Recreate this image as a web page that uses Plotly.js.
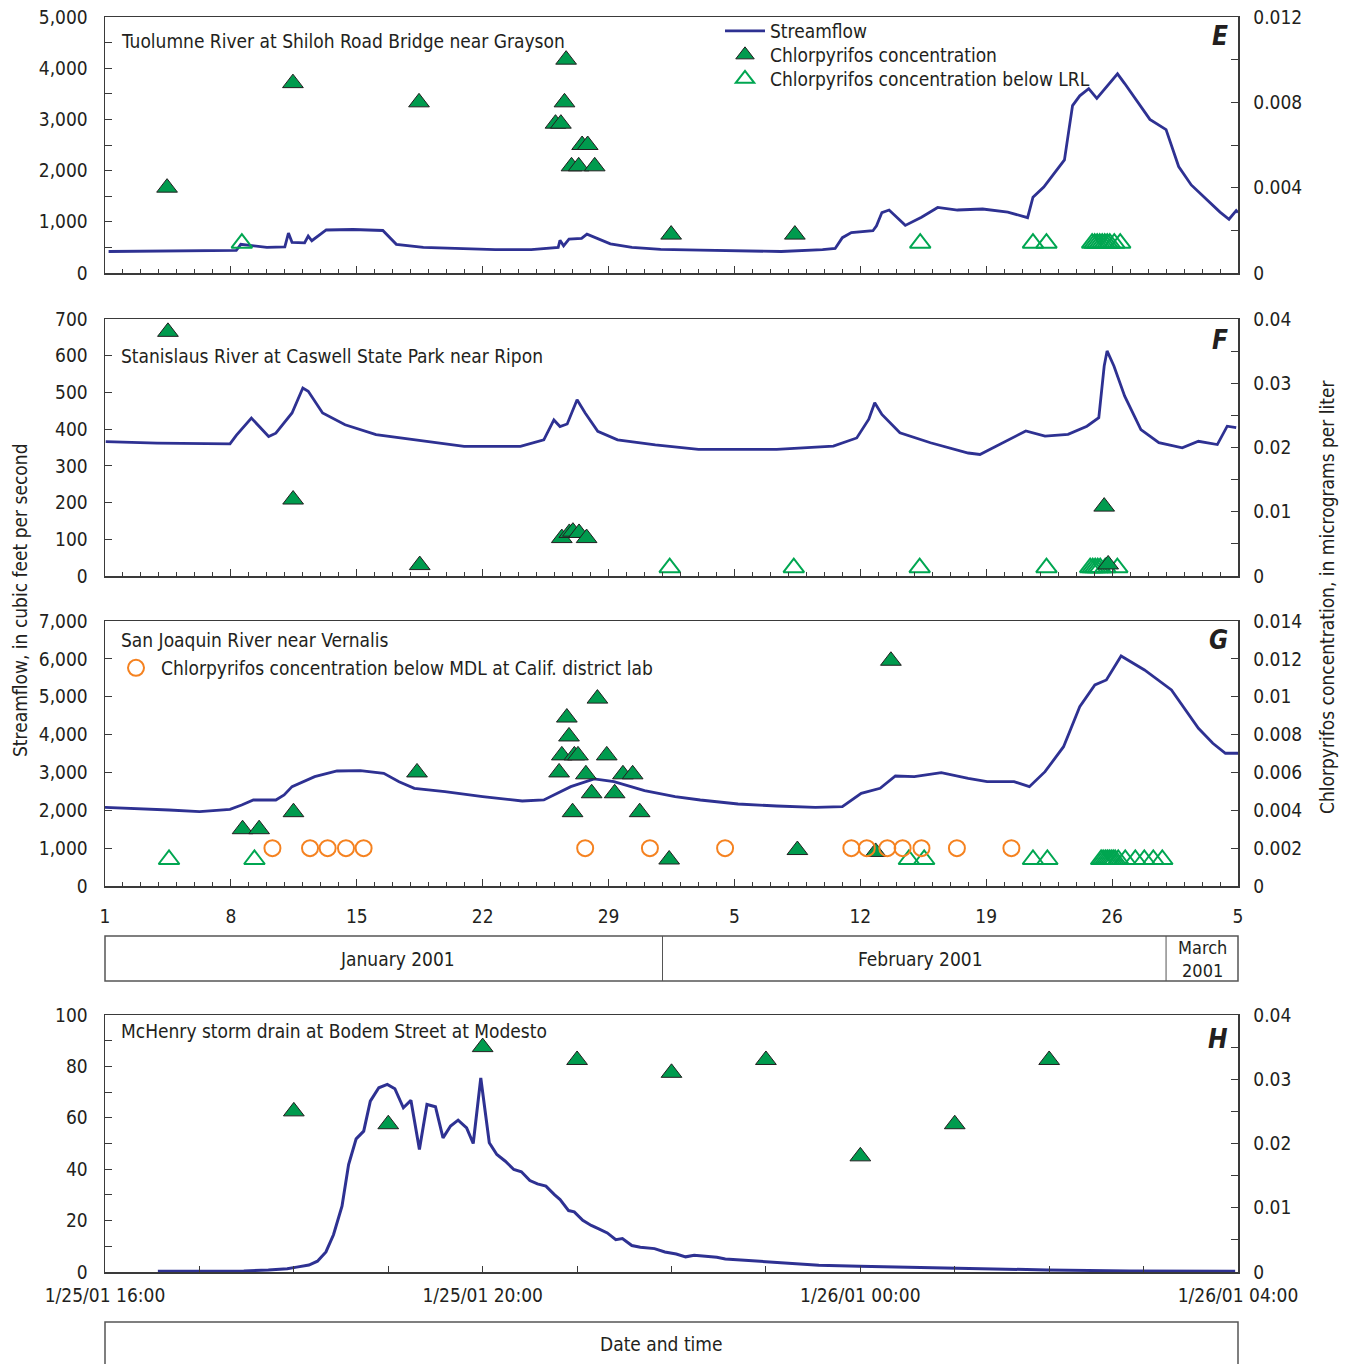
<!DOCTYPE html>
<html>
<head>
<meta charset="utf-8">
<script src="https://cdn.plot.ly/plotly-3.0.1.min.js"></script>
<style>
  html, body { margin: 0; padding: 0; background: #ffffff; }
  #chart { width: 1354px; height: 1364px; }
</style>
</head>
<body>
<div id="chart"></div>
<script>
// ---------------- Data ----------------
// Days are counted from 2001-01-01 00:00; hours from 2001-01-25 16:00.

// E: Tuolumne River at Shiloh Road Bridge near Grayson
const eFlowDay = [0.2, 3.8, 7.3, 7.55, 8.0, 9.0, 10.0, 10.2, 10.4, 11.1, 11.3, 11.5, 12.3, 13.8, 15.45, 16.2, 17.7, 19.7, 21.7, 23.7,
  25.2, 25.3, 25.5, 25.8, 26.5, 26.8, 27.3, 28.1, 29.3, 30.9, 33.1, 35.4, 37.6, 39.9, 40.6, 41.0, 41.5, 42.7, 42.9, 43.2,
  43.6, 44.5, 45.4, 46.3, 47.4, 48.8, 50.2, 51.3, 51.6, 52.2, 52.9, 53.35, 53.6, 53.8, 54.2, 54.7, 55.15, 55.6, 56.3, 56.7,
  58.1, 59.0, 59.7, 60.4, 61.3, 62.0, 62.5, 62.9, 63.0];
const eFlowCfs = [420, 425, 440, 560, 540, 500, 510, 780, 600, 590, 720, 630, 840, 850, 830, 560, 500, 480, 455, 455,
  500, 640, 530, 660, 675, 760, 690, 570, 500, 460, 445, 430, 420, 455, 480, 690, 790, 825, 920, 1180,
  1230, 930, 1090, 1280, 1230, 1250, 1190, 1080, 1480, 1680, 2010, 2210, 2800, 3270, 3460, 3600, 3410, 3600, 3890, 3700,
  3000, 2800, 2080, 1720, 1420, 1190, 1050, 1220, 1180];
const eDetDay = [3.45, 10.45, 17.46, 25.64, 25.55, 25.05, 25.35, 26.53, 26.84, 25.94, 26.34, 27.23, 31.48, 38.36];
const eDetConc = [0.0040, 0.0089, 0.0080, 0.0100, 0.0080, 0.0070, 0.0070, 0.0060, 0.0060, 0.0050, 0.0050, 0.0050, 0.0018, 0.0018];
const eLrlDay = [7.61, 45.33, 51.6, 52.35, 54.89, 55.03, 55.17, 55.31, 55.45, 55.59, 55.73, 55.87, 56.12, 56.45];
const eLrlConc = [0.0014, 0.0014, 0.0014, 0.0014, 0.0014, 0.0014, 0.0014, 0.0014, 0.0014, 0.0014, 0.0014, 0.0014, 0.0014, 0.0014];

// F: Stanislaus River at Caswell State Park near Ripon
const fFlowDay = [0.04, 2.9, 6.95, 7.3, 8.14, 9.1, 9.5, 10.4, 11.0, 11.3, 12.1, 13.35, 15.07, 17.84, 19.97, 23.1, 24.4, 24.96, 25.3, 25.7,
  26.25, 26.7, 27.4, 28.5, 30.6, 33.0, 37.35, 40.5, 41.8, 42.47, 42.8, 43.2, 44.2, 45.9, 48.0, 48.65, 50.1, 51.2, 52.27, 53.55,
  54.6, 55.26, 55.56, 55.72, 56.1, 56.7, 57.6, 58.6, 59.9, 60.8, 61.85, 62.4, 62.9];
const fFlowCfs = [366, 362, 360, 383, 430, 380, 389, 444, 512, 503, 444, 412, 385, 366, 353, 353, 371, 425, 407, 414,
  480, 444, 394, 371, 357, 345, 345, 354, 376, 427, 472, 440, 390, 363, 335, 331, 367, 395, 381, 386,
  408, 431, 572, 613, 572, 490, 399, 363, 349, 367, 358, 408, 404];
const fDetDay = [3.5, 10.46, 17.5, 25.4, 25.82, 26.02, 26.36, 26.78, 55.56, 55.78];
const fDetConc = [0.038, 0.0119, 0.0017, 0.0059, 0.0067, 0.0069, 0.0067, 0.0059, 0.0108, 0.0018];
const fLrlDay = [31.4, 38.3, 45.3, 52.35, 54.78, 54.92, 55.06, 55.2, 55.34, 55.62, 56.29];
const fLrlConc = [0.0013, 0.0013, 0.0013, 0.0013, 0.0013, 0.0013, 0.0013, 0.0013, 0.0013, 0.0013, 0.0013];

// G: San Joaquin River near Vernalis
const gFlowDay = [0, 1.85, 3.56, 5.26, 6.95, 7.6, 8.25, 9.5, 9.96, 10.4, 11.66, 12.9, 14.2, 15.5, 16.35, 17.2, 18.9, 21.0, 23.2, 24.4,
  25.9, 27.2, 28.3, 30.0, 31.7, 33.1, 35.2, 37.35, 39.5, 41.0, 42.05, 43.1, 43.95, 45.0, 46.5, 48.0, 49.05, 50.55, 51.4, 52.27,
  53.3, 54.2, 55.04, 55.68, 56.5, 57.8, 59.3, 60.8, 61.6, 62.3, 63.0];
const gFlowCfs = [2079, 2052, 2008, 1964, 2026, 2140, 2272, 2272, 2404, 2624, 2888, 3038, 3047, 2977, 2756, 2580, 2492, 2360, 2245, 2272,
  2624, 2827, 2756, 2518, 2360, 2272, 2166, 2113, 2079, 2096, 2448, 2580, 2906, 2888, 2994, 2844, 2756, 2756, 2624, 3020,
  3680, 4737, 5310, 5443, 6077, 5707, 5178, 4166, 3770, 3506, 3506];
const gDetDay = [7.65, 8.57, 10.48, 17.35, 25.68, 25.8, 25.4, 26.1, 26.3, 25.25, 26.0, 26.74, 27.06, 27.38, 27.9, 28.34, 28.8, 29.34, 29.73, 31.37,
  38.5, 42.85, 43.7];
const gDetConc = [0.0030, 0.0030, 0.0039, 0.0060, 0.0089, 0.0079, 0.0069, 0.0069, 0.0069, 0.0060, 0.0039, 0.0059, 0.0049, 0.0099, 0.0069, 0.0049, 0.0059, 0.0059, 0.0039, 0.0014,
  0.0019, 0.0018, 0.0119];
const gLrlDay = [3.56, 8.31, 44.7, 45.55, 51.6, 52.4, 55.39, 55.5, 55.62, 55.73, 55.84, 55.95, 56.06, 56.17, 56.34, 56.73, 57.29, 57.79, 58.29, 58.79];
const gLrlConc = [0.0014, 0.0014, 0.0014, 0.0014, 0.0014, 0.0014, 0.0014, 0.0014, 0.0014, 0.0014, 0.0014, 0.0014, 0.0014, 0.0014, 0.0014, 0.0014, 0.0014, 0.0014, 0.0014, 0.0014];
const gMdlDay = [9.31, 11.4, 12.38, 13.4, 14.38, 26.7, 30.3, 34.48, 41.5, 42.36, 43.5, 44.35, 45.4, 47.37, 50.4];
const gMdlConc = [0.002, 0.002, 0.002, 0.002, 0.002, 0.002, 0.002, 0.002, 0.002, 0.002, 0.002, 0.002, 0.002, 0.002, 0.002];

// H: McHenry storm drain at Bodem Street at Modesto
const hFlowHour = [0.56, 1.05, 1.47, 1.73, 1.93, 2.03, 2.16, 2.25, 2.34, 2.42, 2.51, 2.58, 2.66, 2.74, 2.81, 2.9, 2.99, 3.07, 3.16, 3.24,
  3.33, 3.41, 3.5, 3.58, 3.66, 3.74, 3.83, 3.9, 3.98, 4.07, 4.15, 4.24, 4.33, 4.41, 4.5, 4.58, 4.67, 4.76, 4.82, 4.91,
  4.97, 5.06, 5.15, 5.23, 5.32, 5.41, 5.48, 5.58, 5.67, 5.82, 5.93, 6.05, 6.15, 6.24, 6.48, 6.57, 6.95, 7.26, 7.56, 7.99,
  8.47, 9.12, 9.98, 10.85, 11.97];
const hFlowCfs = [0.3, 0.3, 0.4, 0.8, 1.3, 1.9, 2.7, 4.2, 7.8, 14.5, 25.6, 41.8, 51.8, 54.8, 66.5, 71.7, 73.0, 71.3, 63.9, 66.8,
  47.7, 65.2, 64.3, 52.2, 56.8, 59.1, 56.1, 50.0, 75.5, 50.3, 45.7, 43.1, 39.9, 39.0, 35.6, 34.3, 33.4, 30.1, 28.2, 23.9,
  23.4, 20.1, 18.1, 16.8, 15.2, 12.6, 13.0, 10.3, 9.6, 9.1, 7.8, 7.0, 5.9, 6.5, 5.7, 5.1, 4.2, 3.3, 2.6, 2.2,
  1.8, 1.3, 0.8, 0.4, 0.3];
const hDetHour = [2, 3, 4, 5, 6, 7, 8, 9, 10];
const hDetConc = [0.025, 0.023, 0.035, 0.033, 0.031, 0.033, 0.018, 0.023, 0.033];

// ---------------- Helpers ----------------
const W = 1354, H = 1364;
const px = v => v / W;            // page x -> paper fraction
const py = v => 1 - v / H;        // page y -> paper fraction
const DAY = 86400000, HOUR = 3600000;
const t0Day = Date.UTC(2001, 0, 1);
const t0Hour = Date.UTC(2001, 0, 25, 16);
const fmt = ms => new Date(ms).toISOString().slice(0, 19).replace('T', ' ');
const dayDates = arr => arr.map(d => fmt(t0Day + d * DAY));
const hourDates = arr => arr.map(h => fmt(t0Hour + h * HOUR));

const FONT = "'Liberation Sans Narrow', 'Arial Narrow', 'DejaVu Sans Condensed', sans-serif";
const INK = '#231f20';
const AXIS = '#3a3a3a';
const FLOW = '#2e3192';
const GREEN = '#009b4e';
const GREEN_OPEN = '#00a651';
const ORANGE = '#f58220';

const tickFont = { family: FONT, size: 19, color: INK };
const textFont = { family: FONT, size: 19, color: INK };

const flowLine = { color: FLOW, width: 2.8 };
const detMarker = { symbol: 'triangle-up', size: 18, color: GREEN, line: { color: INK, width: 1 } };
const lrlMarker = { symbol: 'triangle-up-open', size: 18, color: GREEN_OPEN, line: { color: GREEN_OPEN, width: 2 } };
const mdlMarker = { symbol: 'circle-open', size: 16, color: ORANGE, line: { color: ORANGE, width: 2 } };

// ---------------- Traces ----------------
const traces = [
  // E
  { x: dayDates(eFlowDay), y: eFlowCfs, xaxis: 'x', yaxis: 'y', mode: 'lines', line: flowLine, name: 'Streamflow', legend: 'legend' },
  { x: dayDates(eDetDay), y: eDetConc, xaxis: 'x', yaxis: 'y2', mode: 'markers', marker: detMarker, name: 'Chlorpyrifos concentration', legend: 'legend3' },
  { x: dayDates(eLrlDay), y: eLrlConc, xaxis: 'x', yaxis: 'y2', mode: 'markers', marker: lrlMarker, name: 'Chlorpyrifos concentration below LRL', legend: 'legend4' },
  // F
  { x: dayDates(fFlowDay), y: fFlowCfs, xaxis: 'x2', yaxis: 'y3', mode: 'lines', line: flowLine, showlegend: false },
  { x: dayDates(fLrlDay), y: fLrlConc, xaxis: 'x2', yaxis: 'y4', mode: 'markers', marker: lrlMarker, showlegend: false },
  { x: dayDates(fDetDay), y: fDetConc, xaxis: 'x2', yaxis: 'y4', mode: 'markers', marker: detMarker, showlegend: false },
  // G
  { x: dayDates(gFlowDay), y: gFlowCfs, xaxis: 'x3', yaxis: 'y5', mode: 'lines', line: flowLine, showlegend: false },
  { x: dayDates(gLrlDay), y: gLrlConc, xaxis: 'x3', yaxis: 'y6', mode: 'markers', marker: lrlMarker, showlegend: false },
  { x: dayDates(gDetDay), y: gDetConc, xaxis: 'x3', yaxis: 'y6', mode: 'markers', marker: detMarker, showlegend: false },
  { x: dayDates(gMdlDay), y: gMdlConc, xaxis: 'x3', yaxis: 'y6', mode: 'markers', marker: mdlMarker,
    name: 'Chlorpyrifos concentration below MDL at Calif. district lab', legend: 'legend2' },
  // H
  { x: hourDates(hFlowHour), y: hFlowCfs, xaxis: 'x4', yaxis: 'y7', mode: 'lines', line: { color: FLOW, width: 3 }, showlegend: false },
  { x: hourDates(hDetHour), y: hDetConc, xaxis: 'x4', yaxis: 'y8', mode: 'markers', marker: detMarker, showlegend: false }
];

// ---------------- Axes ----------------
const xDom = [px(105), px(1238)];
const dayRange = ['2001-01-01', '2001-03-05'];

function dayAxis(yName, labels) {
  return {
    type: 'date', domain: xDom, range: dayRange, anchor: yName,
    tick0: '2001-01-01', dtick: 7 * DAY, tickformat: '%-d',
    ticks: 'inside', ticklen: 7, tickwidth: 1, tickcolor: AXIS,
    minor: { dtick: DAY, tick0: '2001-01-01', ticks: 'inside', ticklen: 4, tickcolor: AXIS, showgrid: false },
    showticklabels: labels, tickfont: tickFont, ticklabelstandoff: 13,
    showline: true, mirror: true, linecolor: AXIS, linewidth: 1.5,
    showgrid: false, zeroline: false, fixedrange: true
  };
}
function leftAxis(xName, dom, range, dtick, minorDtick, fmtStr) {
  const a = {
    domain: dom, range: range, anchor: xName, side: 'left',
    dtick: dtick, tick0: 0, tickformat: fmtStr,
    ticks: 'inside', ticklen: 7, tickwidth: 1, tickcolor: AXIS,
    tickfont: tickFont, ticklabelstandoff: 12,
    showline: true, linecolor: AXIS, linewidth: 1.5,
    showgrid: false, zeroline: false, fixedrange: true
  };
  if (minorDtick) a.minor = { dtick: minorDtick, tick0: 0, ticks: 'inside', ticklen: 7, tickcolor: AXIS, showgrid: false };
  return a;
}
function rightAxis(xName, over, range, dtick, minorDtick) {
  const a = {
    overlaying: over, anchor: xName, side: 'right', range: range,
    dtick: dtick, tick0: 0,
    ticks: 'inside', ticklen: 7, tickwidth: 1, tickcolor: AXIS,
    tickfont: tickFont, ticklabelstandoff: 10,
    showline: true, linecolor: AXIS, linewidth: 1.5,
    showgrid: false, zeroline: false, fixedrange: true
  };
  if (minorDtick) a.minor = { dtick: minorDtick, tick0: 0, ticks: 'inside', ticklen: 7, tickcolor: AXIS, showgrid: false };
  return a;
}

const domE = [py(273), py(17)];
const domF = [py(576), py(319)];
const domG = [py(886), py(621)];
const domH = [py(1272), py(1015)];

function legendAt(x, y) {
  return {
    x: px(x), y: py(y), xanchor: 'left', yanchor: 'middle',
    bgcolor: 'rgba(0,0,0,0)', borderwidth: 0, tracegroupgap: 0,
    font: textFont, itemwidth: 40
  };
}

const layout = {
  width: W, height: H,
  margin: { l: 0, r: 0, t: 0, b: 0, pad: 0 },
  paper_bgcolor: '#ffffff', plot_bgcolor: 'rgba(0,0,0,0)',
  font: textFont,
  showlegend: true,

  xaxis: dayAxis('y', false),
  yaxis: leftAxis('x', domE, [0, 5000], 1000, 500, ','),
  yaxis2: rightAxis('x', 'y', [0, 0.012], 0.004, 0.002),

  xaxis2: dayAxis('y3', false),
  yaxis3: leftAxis('x2', domF, [0, 700], 100, null, 'd'),
  yaxis4: rightAxis('x2', 'y3', [0, 0.04], 0.01, 0.005),

  xaxis3: dayAxis('y5', true),
  yaxis5: leftAxis('x3', domG, [0, 7000], 1000, null, ','),
  yaxis6: rightAxis('x3', 'y5', [0, 0.014], 0.002, null),

  xaxis4: {
    type: 'date', domain: xDom, anchor: 'y7',
    range: ['2001-01-25 16:00', '2001-01-26 04:00'],
    tick0: '2001-01-25 16:00', dtick: 4 * HOUR, tickformat: '%-m/%-d/%y %H:%M',
    ticks: 'inside', ticklen: 6, tickwidth: 1, tickcolor: AXIS,
    minor: { dtick: HOUR, tick0: '2001-01-25 16:00', ticks: 'inside', ticklen: 6, tickcolor: AXIS, showgrid: false },
    tickfont: tickFont, ticklabelstandoff: 6,
    showline: true, mirror: true, linecolor: AXIS, linewidth: 1.5,
    showgrid: false, zeroline: false, fixedrange: true
  },
  yaxis7: leftAxis('x4', domH, [0, 100], 20, 10, 'd'),
  yaxis8: rightAxis('x4', 'y7', [0, 0.04], 0.01, 0.005),

  legend: legendAt(720, 31),
  legend3: legendAt(720, 55),
  legend4: legendAt(720, 79),
  legend2: legendAt(111, 668),

  shapes: [
    // month band below panel G
    { type: 'rect', xref: 'paper', yref: 'paper', x0: px(105), x1: px(1238), y0: py(981), y1: py(936),
      line: { color: '#555555', width: 1.5 }, fillcolor: 'rgba(0,0,0,0)' },
    { type: 'line', xref: 'x3', yref: 'paper', x0: '2001-02-01', x1: '2001-02-01', y0: py(981), y1: py(936),
      line: { color: '#555555', width: 1 } },
    { type: 'line', xref: 'x3', yref: 'paper', x0: '2001-03-01', x1: '2001-03-01', y0: py(981), y1: py(936),
      line: { color: '#555555', width: 1 } },
    // caption band below panel H
    { type: 'rect', xref: 'paper', yref: 'paper', x0: px(105), x1: px(1238), y0: py(1368), y1: py(1322),
      line: { color: '#555555', width: 1.5 }, fillcolor: 'rgba(0,0,0,0)' }
  ],

  annotations: [
    { text: 'Tuolumne River at Shiloh Road Bridge near Grayson', x: px(119), y: py(41) },
    { text: 'Stanislaus River at Caswell State Park near Ripon', x: px(119), y: py(356) },
    { text: 'San Joaquin River near Vernalis', x: px(119), y: py(640) },
    { text: 'McHenry storm drain at Bodem Street at Modesto', x: px(119), y: py(1031) },
    { text: '<b><i>E</i></b>', x: px(1230), y: py(36), xanchor: 'right', font: { family: FONT, size: 26, color: INK } },
    { text: '<b><i>F</i></b>', x: px(1230), y: py(340), xanchor: 'right', font: { family: FONT, size: 26, color: INK } },
    { text: '<b><i>G</i></b>', x: px(1230), y: py(640), xanchor: 'right', font: { family: FONT, size: 26, color: INK } },
    { text: '<b><i>H</i></b>', x: px(1230), y: py(1039), xanchor: 'right', font: { family: FONT, size: 26, color: INK } },
    { text: 'January 2001', x: px(397), y: py(959), xanchor: 'center' },
    { text: 'February 2001', x: px(920), y: py(959), xanchor: 'center' },
    { text: 'March<br>2001', x: px(1202), y: py(959), xanchor: 'center', font: { family: FONT, size: 18, color: INK } },
    { text: 'Date and time', x: px(661), y: py(1344), xanchor: 'center' },
    { text: 'Streamflow, in cubic feet per second', x: px(20), y: py(600), xanchor: 'center', textangle: -90 },
    { text: 'Chlorpyrifos concentration, in micrograms per liter', x: px(1327), y: py(597), xanchor: 'center', textangle: -90 }
  ].map(a => Object.assign({
    xref: 'paper', yref: 'paper', xanchor: 'left', yanchor: 'middle', showarrow: false,
    font: textFont
  }, a))
};

Plotly.newPlot('chart', traces, layout, { staticPlot: true, displayModeBar: false });
</script>
</body>
</html>
